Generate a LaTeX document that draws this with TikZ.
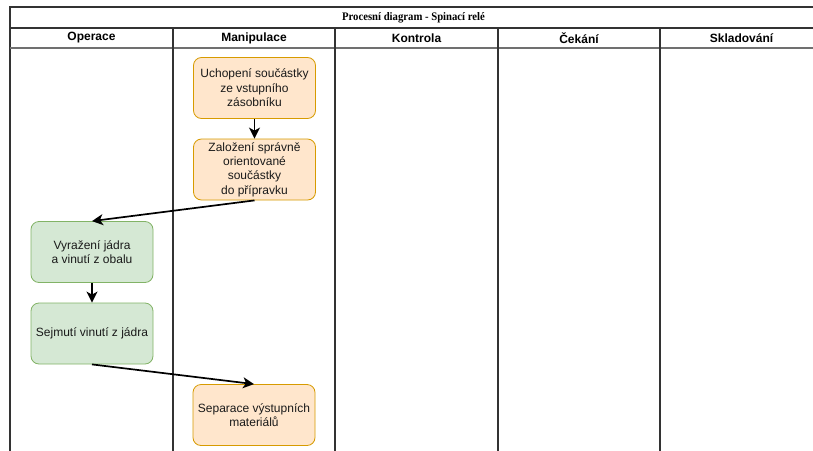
\documentclass[tikz,border=0pt]{standalone}
\usepackage{fontspec}
\setmainfont{Liberation Sans}
\newfontfamily\titlefont{Liberation Serif}
\usetikzlibrary{arrows.meta}
\definecolor{orfill}{HTML}{FFE6CC}
\definecolor{ordraw}{HTML}{D79B00}
\definecolor{grfill}{HTML}{D5E8D4}
\definecolor{grdraw}{HTML}{82B366}
\definecolor{lanecol}{HTML}{333333}
\definecolor{txtcol}{HTML}{1A1A1A}
\begin{document}
\begin{tikzpicture}[x=1pt,y=-1pt,
  boxbase/.style={rounded corners=8pt,line width=0.8pt,minimum width=122pt,minimum height=61pt,
    align=center,inner sep=2pt,text=txtcol,font=\fontsize{12}{14.4}\selectfont},
  orbox/.style={boxbase,draw=ordraw,fill=orfill},
  grbox/.style={boxbase,draw=grdraw,fill=grfill},
  lane/.style={draw=lanecol,line width=1.3pt},
  hdr/.style={font=\bfseries\fontsize{12}{14}\selectfont,text=black,inner sep=0pt},
  flow/.style={line width=1.7pt,draw=black,-{Stealth[length=11pt,width=11pt,inset=3pt]}}
]
\useasboundingbox (0,0) rectangle (813,450);
\clip (0,0) rectangle (813,450);
\fill[white] (0,0) rectangle (813,450);
% table
\draw[lane] (10,460) -- (10,7) -- (830,7);
\draw[lane] (10,28) -- (830,28);
\draw[lane,draw=lanecol!70] (10,48) -- (830,48);
\foreach \xx in {173,335,498,660} \draw[lane] (\xx,28) -- (\xx,460);
% titles
\node[inner sep=0pt,font=\titlefont\bfseries\fontsize{11.5}{13}\selectfont,xscale=0.93] (title) at (413.5,17.5) {Procesní diagram - Spinací relé};
\node[hdr] (h1) at (91.5,38) {Operace};
\node[hdr] (h2) at (254,38) {Manipulace};
\node[hdr] (h3) at (416.5,38) {Kontrola};
\node[hdr] (h4) at (579,38) {Čekání};
\node[hdr] (h5) at (741.5,38) {Skladování};
% boxes
\node[orbox] (uch) at (254.5,88) {Uchopení součástky\\ze vstupního\\zásobníku};
\node[orbox] (zal) at (254.5,169.5) {Založení správně\\orientované\\součástky\\do přípravku};
\node[grbox] (vyr) at (92,252) {Vyražení jádra\\a vinutí z obalu};
\node[grbox] (sej) at (92,333.5) {Sejmutí vinutí z jádra};
\node[orbox] (sep) at (254,415) {Separace výstupních\\materiálů};
% connectors
\draw[flow] (uch.south) -- (zal.north);
\draw[flow] (zal.south) -- (vyr.north);
\draw[flow] (vyr.south) -- (sej.north);
\draw[flow] (sej.south) -- (sep.north);
\end{tikzpicture}
\end{document}
